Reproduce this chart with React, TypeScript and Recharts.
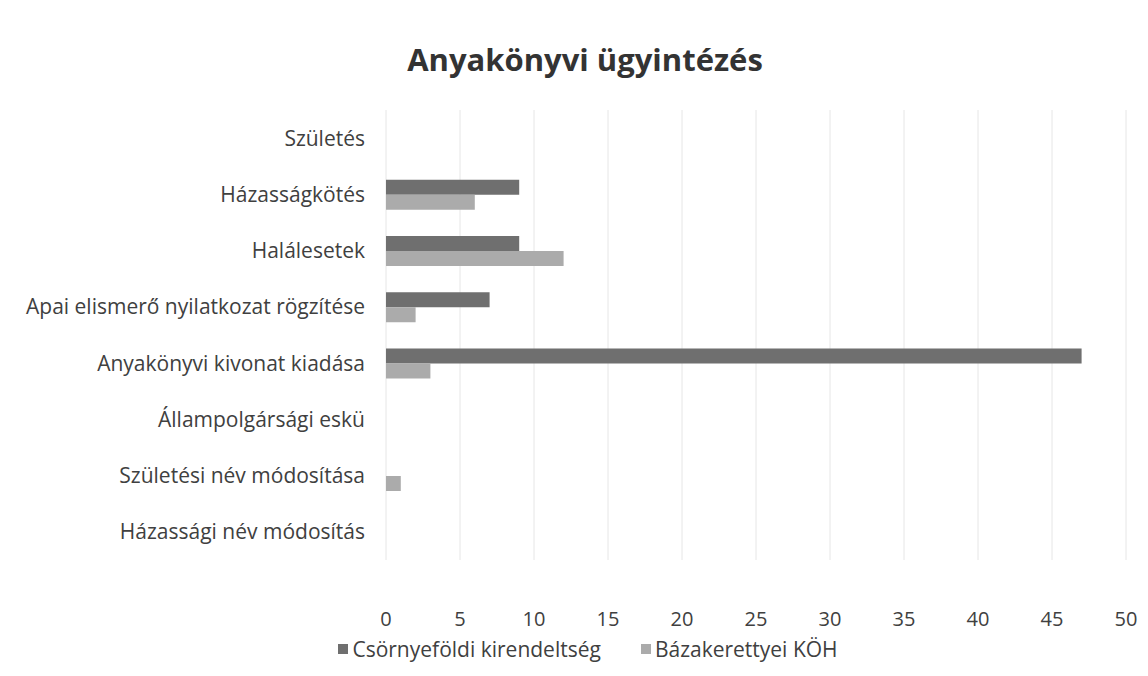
import { BarChart, Bar, XAxis, YAxis, CartesianGrid, Legend } from "recharts";

const CATEGORIES = [
  "Születés",
  "Házasságkötés",
  "Halálesetek",
  "Apai elismerő nyilatkozat rögzítése",
  "Anyakönyvi kivonat kiadása",
  "Állampolgársági eskü",
  "Születési név módosítása",
  "Házassági név módosítás",
];
const CSORNYEFOLDI = [0, 9, 9, 7, 47, 0, 0, 0];
const BAZAKERETTYEI = [0, 6, 12, 2, 3, 0, 1, 0];
const X_TICKS = [0, 5, 10, 15, 20, 25, 30, 35, 40, 45, 50];

const SERIES = [
  { key: "csornye", name: "Csörnyeföldi kirendeltség", color: "#6f6f6f" },
  { key: "bazak", name: "Bázakerettyei KÖH", color: "#ababab" },
];

const FONT = "'Open Sans', 'Noto Sans', sans-serif";
const TEXT = "#404040";

const data = CATEGORIES.map((name, i) => ({
  name,
  csornye: CSORNYEFOLDI[i],
  bazak: BAZAKERETTYEI[i],
}));

function LegendBox() {
  return (
    <div
      style={{
        display: "flex",
        justifyContent: "center",
        gap: 40,
        paddingLeft: 28,
        fontSize: 21,
        lineHeight: "22px",
        color: TEXT,
        fontFamily: FONT,
      }}
    >
      {SERIES.map((s) => (
        <span key={s.key} style={{ display: "flex", alignItems: "center" }}>
          <span style={{ width: 10, height: 10, background: s.color, marginRight: 4, display: "inline-block" }} />
          {s.name}
        </span>
      ))}
    </div>
  );
}

export default function App() {
  return (
    <div
      style={{
        position: "absolute",
        left: 0,
        top: 0,
        width: 1148,
        height: 676,
        background: "#fff",
        fontFamily: FONT,
      }}
    >
      <div
        style={{
          position: "absolute",
          top: 38,
          left: 0,
          width: 1148,
          paddingLeft: 22,
          boxSizing: "border-box",
          textAlign: "center",
          fontSize: 31,
          fontWeight: 700,
          color: "#333",
        }}
      >
        Anyakönyvi ügyintézés
      </div>
      <BarChart
        width={1148}
        height={676}
        data={data}
        layout="vertical"
        margin={{ top: 110, right: 22, bottom: 34, left: 0 }}
        barCategoryGap="24%"
        barGap={0}
      >
        <CartesianGrid horizontal={false} stroke="#e6e6e6" />
        <XAxis
          type="number"
          domain={[0, 50]}
          ticks={X_TICKS}
          axisLine={false}
          tickLine={false}
          tickSize={0}
          tickMargin={52}
          height={60}
          tick={{ fill: TEXT, fontSize: 20, fontFamily: FONT }}
        />
        <YAxis
          type="category"
          dataKey="name"
          width={386}
          axisLine={false}
          tickLine={false}
          tickSize={0}
          tickMargin={21}
          interval={0}
          tick={{ fill: TEXT, fontSize: 21, fontFamily: FONT }}
        />
        <Legend
          verticalAlign="bottom"
          align="center"
          content={() => <LegendBox />}
          wrapperStyle={{ top: 638, left: 0, width: 1148 }}
        />
        {SERIES.map((s) => (
          <Bar key={s.key} dataKey={s.key} name={s.name} fill={s.color} isAnimationActive={false} />
        ))}
      </BarChart>
    </div>
  );
}
